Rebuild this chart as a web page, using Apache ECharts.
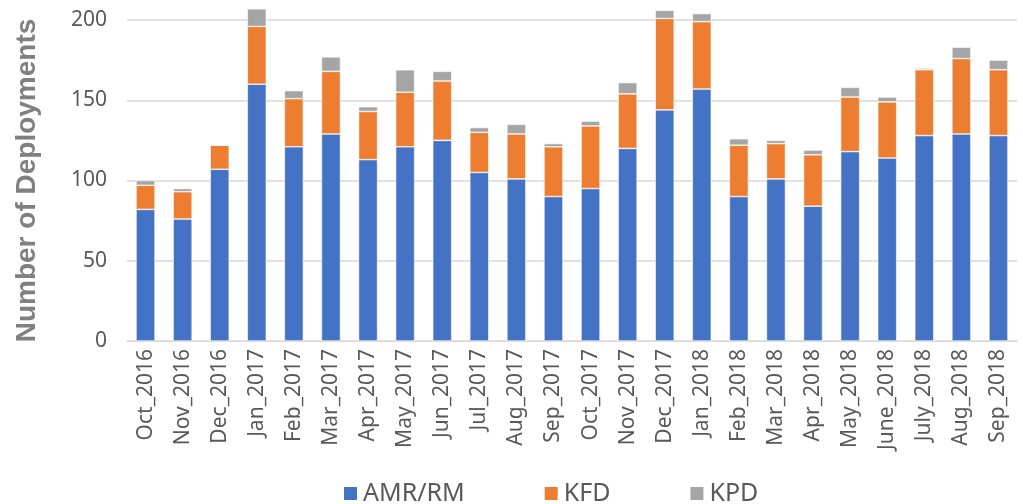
<!DOCTYPE html>
<html>
<head>
<meta charset="utf-8">
<script src="https://cdn.jsdelivr.net/npm/echarts@6/dist/echarts.min.js"></script>
<style>
  html, body { margin: 0; padding: 0; background: #fff; }
  #chart { width: 1023px; height: 504px; }
</style>
</head>
<body>
<div id="chart"></div>
<script>
// months on the x axis
const months = ['Oct_2016', 'Nov_2016', 'Dec_2016', 'Jan_2017', 'Feb_2017', 'Mar_2017',
  'Apr_2017', 'May_2017', 'Jun_2017', 'Jul_2017', 'Aug_2017', 'Sep_2017',
  'Oct_2017', 'Nov_2017', 'Dec_2017', 'Jan_2018', 'Feb_2018', 'Mar_2018',
  'Apr_2018', 'May_2018', 'June_2018', 'July_2018', 'Aug_2018', 'Sep_2018'];
// deployments per month
const amrRm = [82, 76, 107, 160, 121, 129, 113, 121, 125, 105, 101, 90,
  95, 120, 144, 157, 90, 101, 84, 118, 114, 128, 129, 128];
const kfd = [15, 17, 15, 36, 30, 39, 30, 34, 37, 25, 28, 31,
  39, 34, 57, 42, 32, 22, 32, 34, 35, 41, 47, 41];
const kpd = [3, 2, 0, 11, 5, 9, 3, 14, 6, 3, 6, 2,
  3, 7, 5, 5, 4, 2, 3, 6, 3, 1, 7, 6];
const yTicks = [0, 50, 100, 150, 200];

const chart = echarts.init(document.getElementById('chart'));

const font = 'Noto Sans';
const barStyle = { borderColor: '#ffffff', borderWidth: 0.6 };

chart.setOption({
  animation: false,
  textStyle: { fontFamily: font },
  grid: { left: 127, right: 6, top: 20, bottom: 163 },
  legend: {
    top: 476,
    left: 337,
    itemWidth: 15,
    itemHeight: 15,
    itemGap: 78,
    icon: 'rect',
    textStyle: { fontSize: 25, color: '#595959', fontFamily: font },
    data: ['AMR/RM', 'KFD', 'KPD']
  },
  xAxis: {
    type: 'category',
    data: months,
    axisLine: { lineStyle: { color: '#d9d9d9', width: 1 } },
    axisTick: { show: false },
    axisLabel: { rotate: 90, fontSize: 21, color: '#595959', margin: 8, interval: 0 }
  },
  yAxis: {
    type: 'value',
    min: yTicks[0],
    max: yTicks[yTicks.length - 1],
    interval: 50,
    name: 'Number of Deployments',
    nameLocation: 'middle',
    nameRotate: 90,
    nameGap: 86,
    nameTextStyle: { fontSize: 28, fontWeight: 'bold', color: '#808080', fontFamily: 'Liberation Sans' },
    axisLine: { show: false },
    axisTick: { show: false },
    axisLabel: { fontSize: 21, color: '#595959', margin: 20 },
    splitLine: { lineStyle: { color: '#d9d9d9', width: 1.5 } }
  },
  series: [
    { name: 'AMR/RM', type: 'bar', stack: 'all', data: amrRm, barWidth: 19, clip: false, color: '#4472C4', itemStyle: barStyle },
    { name: 'KFD', type: 'bar', stack: 'all', data: kfd, barWidth: 19, clip: false, color: '#ED7D31', itemStyle: barStyle },
    { name: 'KPD', type: 'bar', stack: 'all', data: kpd, barWidth: 19, clip: false, color: '#A5A5A5', itemStyle: barStyle }
  ]
});
</script>
</body>
</html>
